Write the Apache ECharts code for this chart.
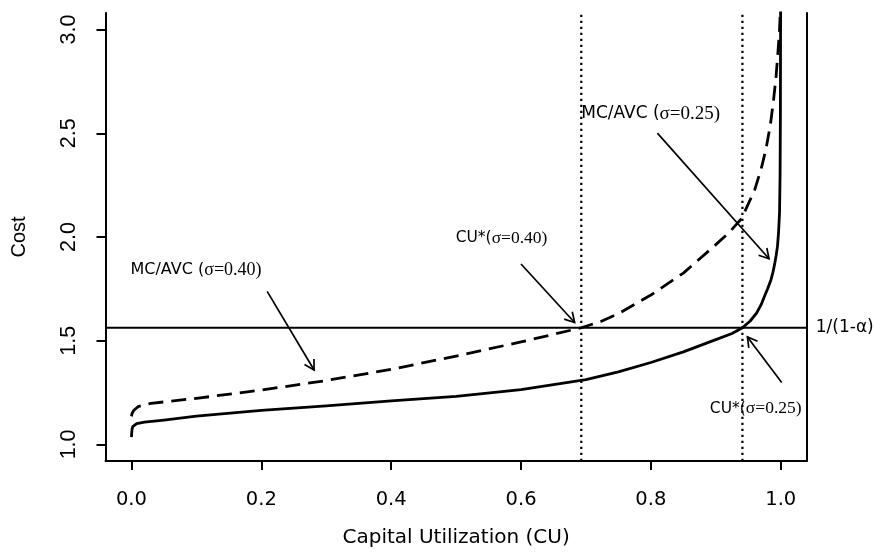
<!DOCTYPE html>
<html>
<head>
<meta charset="utf-8">
<script src="https://cdn.jsdelivr.net/npm/echarts@6/dist/echarts.min.js"></script>
<style>html,body{margin:0;padding:0;background:#fff}#c{width:874px;height:559px}</style>
</head>
<body>
<div id="c"></div>
<script>
// ---- data ----
const xTicks = [0.0, 0.2, 0.4, 0.6, 0.8, 1.0];
const yTicks = [1.0, 1.5, 2.0, 2.5, 3.0];

// MC/AVC, sigma = 0.25 (solid)
const cuSolid = [0.0, 0.0005, 0.001, 0.002, 0.004, 0.008, 0.02, 0.05, 0.1, 0.2, 0.3, 0.4, 0.5, 0.6, 0.7, 0.75, 0.8, 0.85, 0.9, 0.925, 0.941, 0.953, 0.963, 0.970, 0.975, 0.980, 0.985, 0.988, 0.991, 0.993, 0.995, 0.9968, 0.9982, 0.9990, 0.9995, 0.9998];
const mcSolid = [1.035, 1.060, 1.075, 1.086, 1.094, 1.100, 1.107, 1.117, 1.136, 1.164, 1.186, 1.210, 1.232, 1.264, 1.312, 1.350, 1.395, 1.446, 1.505, 1.535, 1.5625, 1.595, 1.634, 1.675, 1.714, 1.752, 1.794, 1.830, 1.876, 1.912, 1.955, 2.030, 2.120, 2.300, 2.600, 3.10];

// MC/AVC, sigma = 0.40 (dashed)
const cuDashed = [0.0, 0.0005, 0.001, 0.003, 0.01, 0.03, 0.1, 0.2, 0.3, 0.4, 0.5, 0.6, 0.693, 0.723, 0.75, 0.8, 0.85, 0.9, 0.92, 0.94, 0.96, 0.97, 0.977, 0.984, 0.989, 0.993, 0.996, 0.998, 0.9995];
const mcDashed = [1.135, 1.143, 1.150, 1.162, 1.182, 1.198, 1.222, 1.262, 1.308, 1.362, 1.426, 1.494, 1.5625, 1.593, 1.630, 1.720, 1.826, 1.963, 2.020, 2.090, 2.228, 2.330, 2.420, 2.540, 2.662, 2.780, 2.903, 2.990, 3.10];

const costLevel = 1.5625;            // 1/(1-alpha)
const cuStar = [0.6928, 0.941];      // CU* for sigma 0.40 and 0.25

// arrows: [fromCU, fromCost, toCU, toCost]
const arrowFrom = [[0.209, 1.738], [0.600, 1.870], [0.810, 2.501], [1.0015, 1.299]];
const arrowTo   = [[0.2813, 1.359], [0.6826, 1.588], [0.982, 1.895], [0.9487, 1.518]];

// annotation texts: [sans part, serif part] and anchor (data coordinates)
const annSans  = ['MC/AVC (', 'CU*(', 'MC/AVC (', 'CU*(', '1/(1-α)'];
const annSerif = ['σ=0.40)', 'σ=0.40)', 'σ=0.25)', 'σ=0.25)', ''];
const annCU    = [0.0994, 0.570, 0.7997, 0.9615, 1.054];
const annCost  = [1.840, 1.993, 2.594, 1.173, 1.5625];

// ---- styles ----
const annAlign     = ['center', 'center', 'center', 'center', 'left'];
const annSansSize  = [16, 15.5, 17, 15.5, 17];
const annSerifSize = [18, 17.5, 19, 17.5, 17];

// ---- chart ----
const X_MIN = -0.04, X_MAX = 1.04, Y_MIN = 0.92, Y_MAX = 3.08;
const pairs = (xs, ys) => xs.map((x, i) => [x, ys[i]]);
const chart = echarts.init(document.getElementById('c'), null, {renderer: 'canvas'});
const axisLineStyle = {color: '#000', width: 2};

const option = {
  animation: false,
  backgroundColor: '#fff',
  grid: {left: 105.5, right: 67.3, top: 13, bottom: 98, containLabel: false},
  xAxis: {
    type: 'value', min: X_MIN, max: X_MAX,
    name: 'Capital Utilization (CU)', nameLocation: 'middle', nameGap: 67,
    nameTextStyle: {fontFamily: 'DejaVu Sans', fontSize: 20, color: '#000'},
    axisLine: {show: true, onZero: false, lineStyle: axisLineStyle},
    axisTick: {show: true, inside: false, length: 9, lineStyle: axisLineStyle, customValues: xTicks},
    axisLabel: {show: true, margin: 29, fontFamily: 'DejaVu Sans', fontSize: 19.5, color: '#000',
      customValues: xTicks, formatter: v => v.toFixed(1)},
    splitLine: {show: false}
  },
  yAxis: [{
    type: 'value', min: Y_MIN, max: Y_MAX, position: 'left',
    name: 'Cost', nameLocation: 'middle', nameGap: 76, nameRotate: 90,
    nameTextStyle: {fontFamily: 'Liberation Sans', fontSize: 20, color: '#000'},
    axisLine: {show: true, onZero: false, lineStyle: axisLineStyle},
    axisTick: {show: true, inside: false, length: 9, lineStyle: axisLineStyle, customValues: yTicks},
    axisLabel: {show: true, rotate: 90, margin: 25, fontFamily: 'Liberation Sans', fontSize: 21.5, color: '#000',
      customValues: yTicks, formatter: v => v.toFixed(1)},
    splitLine: {show: false}
  }, {
    type: 'value', min: Y_MIN, max: Y_MAX, position: 'right',
    axisLine: {show: true, onZero: false, lineStyle: axisLineStyle},
    axisTick: {show: false}, axisLabel: {show: false}, splitLine: {show: false}
  }],
  series: [
    {
      type: 'line', name: 'sigma025', data: pairs(cuSolid, mcSolid), showSymbol: false,
      smooth: false, clip: true,
      lineStyle: {color: '#000', width: 2.8, type: 'solid', join: 'round'}, z: 5
    },
    {
      type: 'line', name: 'sigma040', data: pairs(cuDashed, mcDashed), showSymbol: false,
      smooth: false, clip: true,
      lineStyle: {color: '#000', width: 2.8, type: [15, 8], cap: 'butt', join: 'round'}, z: 5
    },
    {
      type: 'line', name: 'hline', data: [[X_MIN, costLevel], [X_MAX, costLevel]], showSymbol: false,
      lineStyle: {color: '#000', width: 2}, z: 3
    },
    ...cuStar.map(c => ({
      type: 'line', data: [[c, Y_MIN], [c, Y_MAX]], showSymbol: false,
      lineStyle: {color: '#000', width: 2.2, type: [2.2, 3.8], cap: 'butt'}, z: 3
    })),
    {
      type: 'custom', name: 'arrows',
      data: arrowFrom.map((f, i) => [f[0], f[1], arrowTo[i][0], arrowTo[i][1]]),
      encode: {x: [0, 2], y: [1, 3]},
      clip: false, z: 6,
      renderItem: (params, api) => {
        const p0 = api.coord([api.value(0), api.value(1)]);
        const p1 = api.coord([api.value(2), api.value(3)]);
        const a = Math.atan2(p1[1] - p0[1], p1[0] - p0[0]);
        const L = 11, h = Math.PI / 6;
        const l1 = [p1[0] - L * Math.cos(a - h), p1[1] - L * Math.sin(a - h)];
        const l2 = [p1[0] - L * Math.cos(a + h), p1[1] - L * Math.sin(a + h)];
        const st = {stroke: '#000', lineWidth: 1.7, fill: null};
        return {type: 'group', children: [
          {type: 'polyline', shape: {points: [p0, p1]}, style: st},
          {type: 'polyline', shape: {points: [l1, p1, l2]}, style: st}
        ]};
      }
    },
    {
      type: 'custom', name: 'notes',
      data: annCU.map((x, i) => [x, annCost[i]]),
      clip: false, z: 7,
      renderItem: (params, api) => {
        const i = params.dataIndex;
        const p = api.coord([api.value(0), api.value(1)]);
        const txt = annSerif[i] ? '{s|' + annSans[i] + '}{r|' + annSerif[i] + '}' : '{s|' + annSans[i] + '}';
        return {
          type: 'text', x: p[0], y: p[1],
          style: {
            text: txt, align: annAlign[i], verticalAlign: 'middle', fill: '#000',
            rich: {
              s: {fontFamily: 'DejaVu Sans', fontSize: annSansSize[i], fill: '#000'},
              r: {fontFamily: 'Liberation Serif', fontSize: annSerifSize[i], fill: '#000'}
            }
          }
        };
      }
    }
  ]
};
chart.setOption(option);
</script>
</body>
</html>
